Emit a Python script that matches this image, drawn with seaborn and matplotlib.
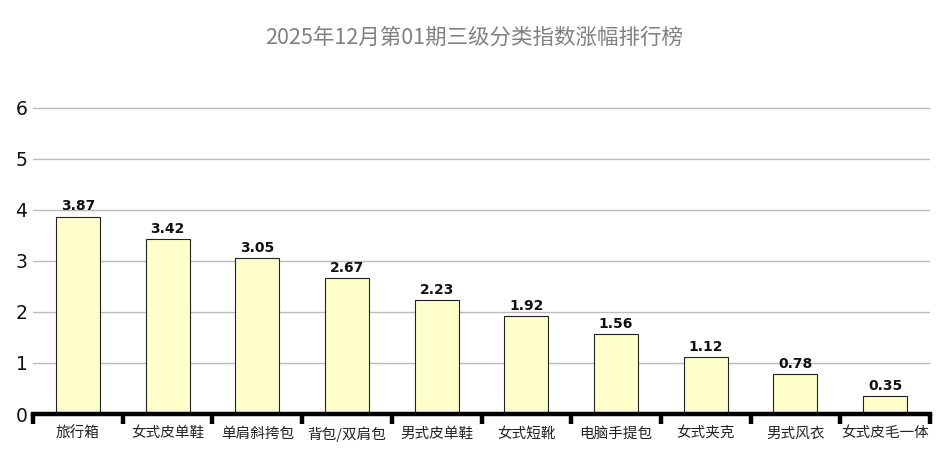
import numpy as np
import pandas as pd
import seaborn as sns
import matplotlib.pyplot as plt
from matplotlib.ticker import FixedLocator

categories = ["旅行箱", "女式皮单鞋", "单肩斜挎包", "背包/双肩包", "男式皮单鞋",
              "女式短靴", "电脑手提包", "女式夹克", "男式风衣", "女式皮毛一体"]
values = [3.87, 3.42, 3.05, 2.67, 2.23, 1.92, 1.56, 1.12, 0.78, 0.35]
title = "2025年12月第01期三级分类指数涨幅排行榜"

sns.set_style("white")
plt.rcParams['font.family'] = ['DejaVu Sans', 'Noto Sans CJK SC']

df = pd.DataFrame({"cat": categories, "val": values})

fig = plt.figure(figsize=(9.48, 4.66), dpi=100)
ax = fig.add_axes([33 / 948, 52 / 466, 897 / 948, 324 / 466])

sns.barplot(data=df, x="cat", y="val", ax=ax, color="#FFFFCC", saturation=1,
            edgecolor="#222222", linewidth=0.8, width=0.49)

ax.set_xlim(-0.5, len(categories) - 0.5)
ax.set_ylim(0, 6.35)
ax.set_yticks(range(0, 7))
ax.yaxis.grid(True, color="#BBBBBB", linewidth=1)
ax.set_axisbelow(True)
ax.set_xlabel("")
ax.set_ylabel("")

for s in ["top", "right", "left"]:
    ax.spines[s].set_visible(False)
ax.spines["bottom"].set_linewidth(3.2)
ax.spines["bottom"].set_color("black")

ax.tick_params(axis="y", length=0, labelsize=13.5, pad=4, labelcolor="#111111")
ax.tick_params(axis="x", which="major", bottom=False, length=0, pad=9)
ax.xaxis.set_minor_locator(FixedLocator(np.arange(-0.5, len(categories), 1)))
ax.tick_params(axis="x", which="minor", bottom=True, length=7, width=3.2,
               color="black", direction="out")
for lbl in ax.get_xticklabels():
    lbl.set_family(['Noto Sans CJK SC', 'DejaVu Sans'])
    lbl.set_fontsize(10.5)
    lbl.set_color("#222222")

for i, v in enumerate(values):
    ax.text(i, v + 0.06, "{:.2f}".format(v), ha="center", va="bottom",
            fontsize=10, fontweight="bold", color="#111111")

fig.text(0.5, 1 - 38 / 466, title, ha="center", va="center", fontsize=15.5,
         color="#808080", family=['Noto Sans CJK SC', 'DejaVu Sans'])

fig.savefig("out.png", dpi=100)
